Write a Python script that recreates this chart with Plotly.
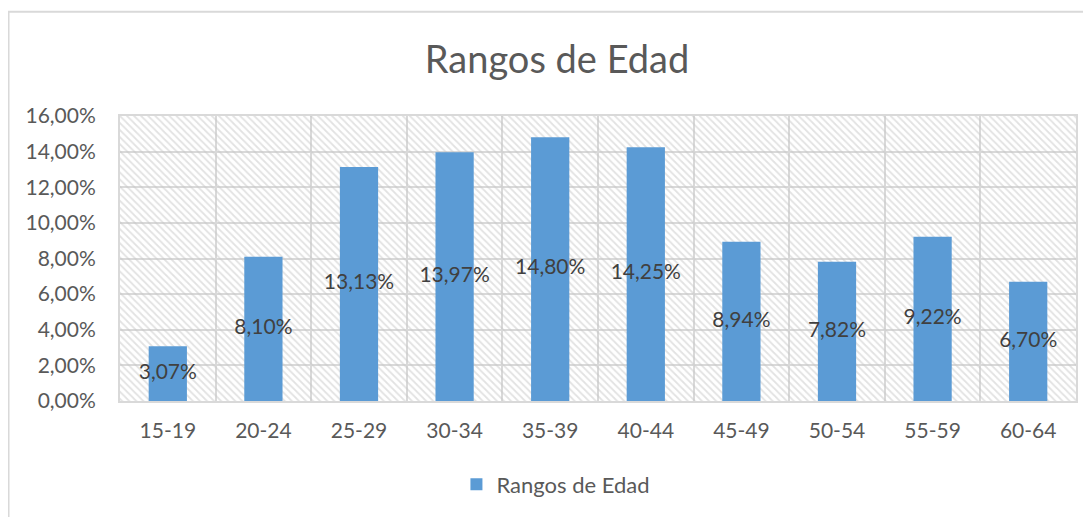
import plotly.graph_objects as go

# datos del gráfico
rangos = ["15-19", "20-24", "25-29", "30-34", "35-39", "40-44", "45-49", "50-54", "55-59", "60-64"]
porcentajes = [3.07, 8.10, 13.13, 13.97, 14.80, 14.25, 8.94, 7.82, 9.22, 6.70]
y_max = 16
y_paso = 2

valores = [p / 100 for p in porcentajes]
etiquetas = [f"{p:.2f}%".replace(".", ",") for p in porcentajes]

fuente = "Lato, 'Open Sans', sans-serif"
gris = "#595959"
grid = "#d9d9d9"

# la página html deja 8px de margen, así que la figura es algo menor
ancho, alto = 1083, 509

fig = go.Figure()

# fondo rayado del área de trazado
fig.add_trace(go.Bar(
    x=rangos, y=[y_max / 100] * len(rangos), width=1,
    marker=dict(color="rgba(0,0,0,0)", line=dict(width=0),
                pattern=dict(shape="\\", fgcolor="#c6c6c6", size=5, solidity=0.35,
                             fillmode="overlay")),
    showlegend=False, hoverinfo="skip",
))

fig.add_trace(go.Bar(
    x=rangos, y=valores, width=0.4, name="Rangos de Edad",
    marker=dict(color="#5b9bd5", line=dict(width=0)),
))

# etiquetas de datos al centro de cada barra
fig.add_trace(go.Scatter(
    x=rangos, y=[v / 2 for v in valores], mode="text", text=etiquetas,
    textfont=dict(family=fuente, size=21, color="#404040"),
    showlegend=False, hoverinfo="skip",
))

fig.update_layout(
    width=ancho, height=alto,
    margin=dict(l=112, r=15, t=108, b=114),
    paper_bgcolor="white", plot_bgcolor="white",
    barmode="overlay", separators=",.",
    font=dict(family=fuente, color=gris, size=21),
    title=dict(text="Rangos de Edad", x=549 / ancho, xanchor="center",
               y=1 - 52 / alto, yanchor="middle",
               font=dict(size=38, color=gris)),
    legend=dict(orientation="h", x=0.456, xanchor="center", y=-0.293, yanchor="middle",
                itemwidth=30, font=dict(size=22, color=gris)),
    shapes=[dict(type="rect", xref="paper", yref="paper",
                 x0=-0.1166, x1=1.03, y0=-0.45, y1=1.366,
                 line=dict(color=grid, width=2), layer="below")],
)

fig.update_xaxes(
    type="category", range=[-0.5, len(rangos) - 0.5], tickson="boundaries",
    showgrid=True, gridcolor=grid, gridwidth=2, ticks="",
    showline=True, linecolor=grid, linewidth=2, mirror=True,
    ticklabelstandoff=10, tickfont=dict(size=21, color=gris),
)
fig.update_yaxes(
    range=[0, y_max / 100], dtick=y_paso / 100, tickformat=".2%",
    showgrid=True, gridcolor=grid, gridwidth=2, zeroline=False, ticks="",
    showline=True, linecolor=grid, linewidth=2, mirror=True,
    ticklabelstandoff=18, tickfont=dict(size=21, color=gris),
)

fig.write_html("out.html")
